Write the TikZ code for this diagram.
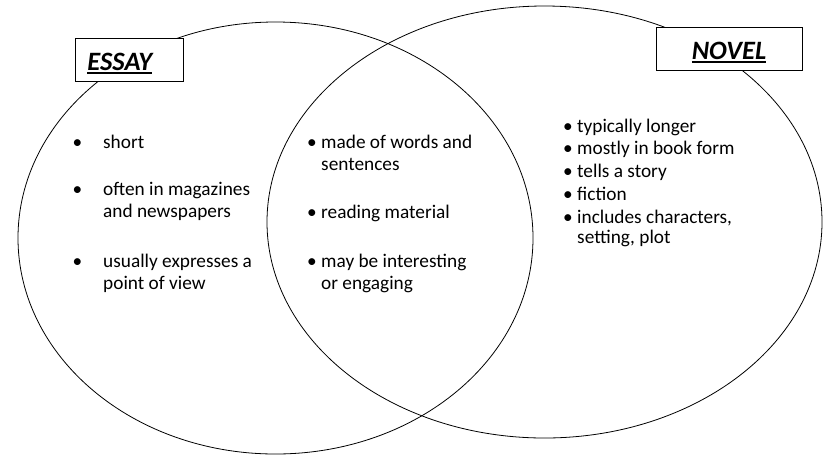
\documentclass[tikz,border=0pt]{standalone}
\usepackage{fontspec}
\setmainfont{Carlito}
\usetikzlibrary{shapes.geometric}
\newcommand\bl{\llap{\textbullet\ }}
\newcommand\wbl{\llap{\textbullet\hspace{21pt}}}
\newcommand\thickul[1]{\setbox0\hbox{#1}\rlap{\vrule height -1.5pt depth 3.3pt width \wd0}\box0}
\tikzset{
  setring/.style={draw,ellipse,line width=0.8pt,inner sep=0pt},
  titlebox/.style={draw,fill=white,line width=0.8pt,minimum height=43,
    text height=22,text depth=0,font=\fontsize{26.5}{30}\selectfont\bfseries\itshape},
  item/.style={anchor=north west,align=left,inner sep=0pt}
}
\begin{document}
\begin{tikzpicture}[x=1pt,y=-1pt,font=\fontsize{19.3}{22}\selectfont]
  \useasboundingbox (0,0) rectangle (829,456);

  \node[setring,minimum width=515,minimum height=432] (essayset) at (275.5,238) {};
  \node[setring,minimum width=555,minimum height=432] (novelset) at (544.5,222) {};

  \node[titlebox,minimum width=108,anchor=west,inner xsep=12pt,text width=84,align=left] (essay) at (75,59.5) {\thickul{ESSAY}};
  \node[titlebox,minimum width=146] (novel) at (729,48.5) {\thickul{NOVEL}};

  % essay only
  \node[item] (short) at (103,132.6) {\strut\wbl short};
  \node[item] (often) at (103,179.6) {\strut\wbl often in magazines\\and newspapers};
  \node[item] (usually) at (103,251.6) {\strut\wbl usually expresses a\\point of view};

  % both
  \node[item] (words) at (321,132.6) {\strut\bl made of words and\\sentences};
  \node[item] (reading) at (321,202.6) {\strut\bl reading material};
  \node[item] (may) at (321,251.6) {\strut\bl may be interesting\\or engaging};

  % novel only
  \node[item] (longer) at (577,116.6) {\strut\bl typically longer};
  \node[item] (book) at (577,138.6) {\strut\bl mostly in book form};
  \node[item] (story) at (577,161.6) {\strut\bl tells a story};
  \node[item] (fiction) at (577,184.6) {\strut\bl fiction};
  \node[item] (chars) at (577,207.6) {\strut\bl includes characters,\\[-2pt]setting, plot};

\end{tikzpicture}
\end{document}
